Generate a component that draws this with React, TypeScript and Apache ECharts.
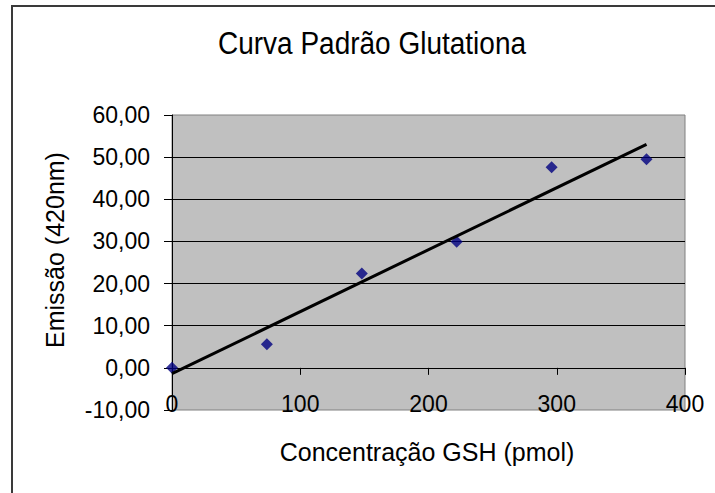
import React, { useEffect, useRef } from "react";
import * as echarts from "echarts";

const chartTitle = "Curva Padrão Glutationa";
const xAxisTitle = "Concentração GSH (pmol)";
const yAxisTitle = "Emissão (420nm)";

const concentracao = [0, 74, 148, 222, 296, 370];
const emissao = [0, 5.6, 22.4, 29.9, 47.6, 49.5];

const xTicks = { min: 0, max: 400, interval: 100 };
const yTicks = { min: -10, max: 60, interval: 10 };

function linearFit(xs: number[], ys: number[]) {
  const n = xs.length;
  const mx = xs.reduce((a, b) => a + b, 0) / n;
  const my = ys.reduce((a, b) => a + b, 0) / n;
  let sxy = 0;
  let sxx = 0;
  for (let i = 0; i < n; i++) {
    sxy += (xs[i] - mx) * (ys[i] - my);
    sxx += (xs[i] - mx) * (xs[i] - mx);
  }
  const slope = sxy / sxx;
  const intercept = my - slope * mx;
  return { slope, intercept };
}

const FONT = "'Liberation Sans', Arial, sans-serif";

export default function App() {
  const ref = useRef<HTMLDivElement>(null);

  useEffect(() => {
    if (!ref.current) return;
    const chart = echarts.init(ref.current, null, { renderer: "svg" });
    const { slope, intercept } = linearFit(concentracao, emissao);
    const xMin = Math.min(...concentracao);
    const xMax = Math.max(...concentracao);
    const trend = [
      [xMin, intercept + slope * xMin],
      [xMax, intercept + slope * xMax],
    ];
    const points = concentracao.map((x, i) => [x, emissao[i]]);

    chart.setOption({
      animation: false,
      backgroundColor: "#ffffff",
      grid: {
        left: 172,
        top: 115,
        width: 513,
        height: 295,
        show: true,
        backgroundColor: "#C0C0C0",
        borderColor: "#808080",
        borderWidth: 1,
      },
      xAxis: {
        type: "value",
        min: xTicks.min,
        max: xTicks.max,
        interval: xTicks.interval,
        axisLine: { show: true, onZero: true, lineStyle: { color: "#000", width: 1 } },
        axisTick: { show: true, inside: false, length: 7, lineStyle: { color: "#000" } },
        axisLabel: {
          margin: -18,
          color: "#000",
          fontFamily: FONT,
          fontSize: 23,
        },
        splitLine: { show: false },
      },
      yAxis: {
        type: "value",
        min: yTicks.min,
        max: yTicks.max,
        interval: yTicks.interval,
        axisLine: { show: true, onZero: false, lineStyle: { color: "#000", width: 1 } },
        axisTick: { show: true, inside: false, length: 8, lineStyle: { color: "#000" } },
        axisLabel: {
          margin: 22,
          color: "#000",
          fontFamily: FONT,
          fontSize: 23,
          formatter: (v: number) => v.toFixed(2).replace(".", ","),
        },
        splitLine: {
          show: true,
          showMinLine: false,
          showMaxLine: false,
          lineStyle: { color: "#000", width: 1 },
        },
      },
      graphic: [
        {
          type: "rect",
          shape: { x: 12, y: 6, width: 720, height: 500 },
          style: { fill: "none", stroke: "#3a3a3a", lineWidth: 2 },
          silent: true,
        },
        {
          type: "text",
          x: 372,
          y: 43,
          scaleY: 1.1,
          style: {
            text: chartTitle,
            font: `28px ${FONT}`,
            fill: "#000",
            align: "center",
            verticalAlign: "middle",
          },
        },
        {
          type: "text",
          x: 427,
          y: 452,
          style: {
            text: xAxisTitle,
            font: `25px ${FONT}`,
            fill: "#000",
            align: "center",
            verticalAlign: "middle",
          },
        },
        {
          type: "text",
          x: 55,
          y: 250,
          rotation: Math.PI / 2,
          style: {
            text: yAxisTitle,
            font: `25px ${FONT}`,
            fill: "#000",
            align: "center",
            verticalAlign: "middle",
          },
        },
      ],
      series: [
        {
          type: "scatter",
          data: points,
          symbol: "diamond",
          symbolSize: 12,
          itemStyle: { color: "#000080" },
        },
        {
          type: "line",
          data: trend,
          showSymbol: false,
          symbol: "none",
          lineStyle: { color: "#000", width: 3 },
          silent: true,
        },
      ],
    });
    return () => chart.dispose();
  }, []);

  return (
    <div
      ref={ref}
      style={{ position: "absolute", left: 0, top: 0, width: 715, height: 493 }}
    />
  );
}
